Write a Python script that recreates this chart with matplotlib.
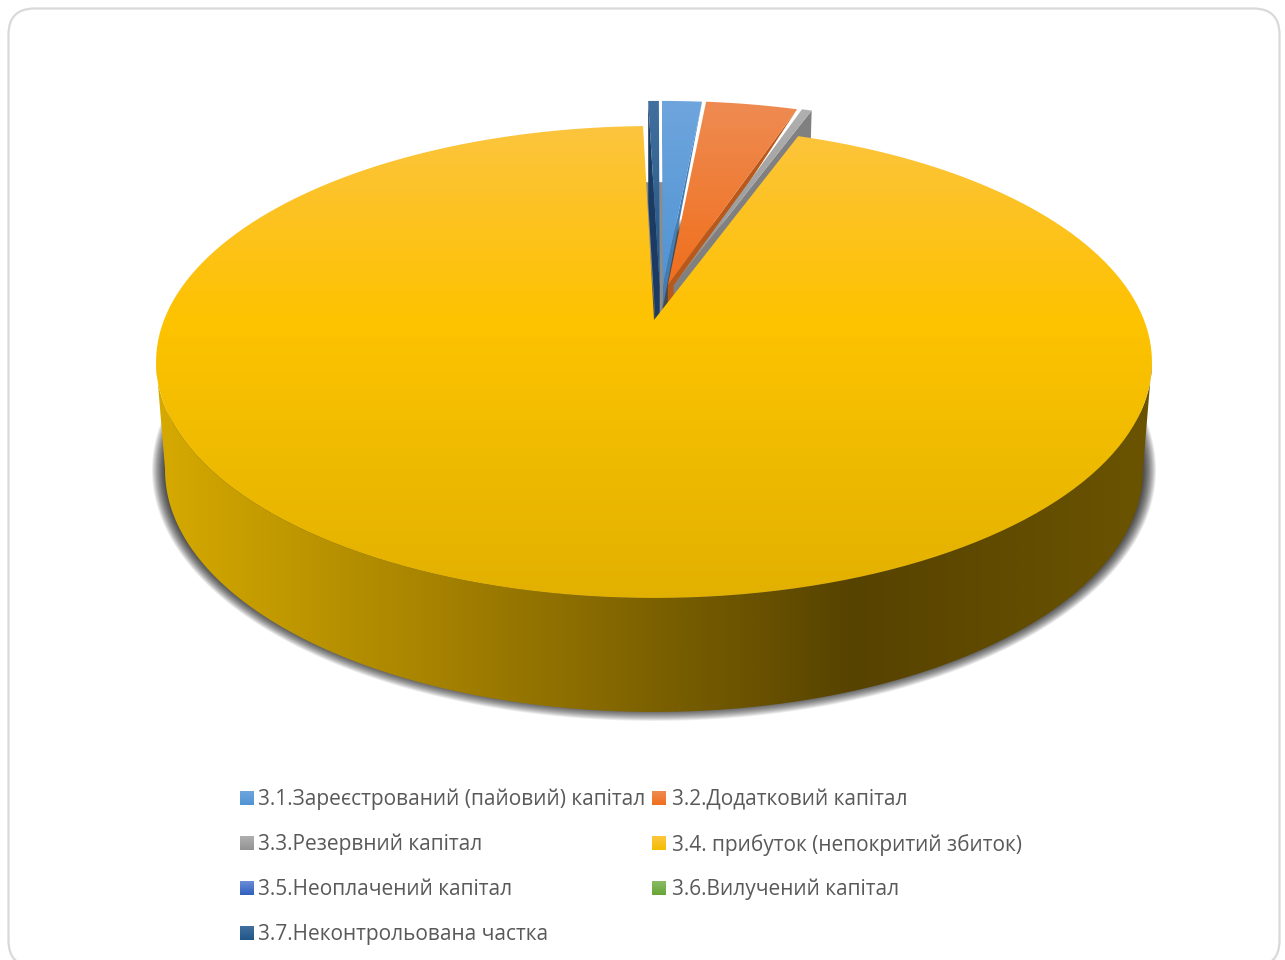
import numpy as np
import matplotlib
matplotlib.use('Agg')
import matplotlib.pyplot as plt
from matplotlib.colors import LinearSegmentedColormap
from matplotlib.patches import FancyBboxPatch, Polygon

labels = ['3.1.Зареєстрований (пайовий) капітал', '3.2.Додатковий капітал',
          '3.3.Резервний капітал', '3.4. прибуток (непокритий збиток)',
          '3.5.Неоплачений капітал', '3.6.Вилучений капітал',
          '3.7.Неконтрольована частка']
shares = [1.58, 3.61, 0.39, 94.0, 0.0, 0.0, 0.42]
pull_u = [0.019, 0.029, 0.041, 0.0, 0.0, 0.0, 0.012]
pull_v = [-0.156, -0.156, -0.156, 0.0, 0.0, 0.0, -0.156]
swatch_top = ['#6FA5DD', '#EE8B52', '#B0B0B0', '#FDC63F', '#6C8CD8', '#8ABB66', '#42709F']
swatch_bottom = ['#4F94D4', '#F06F1C', '#929292', '#F3BD00', '#2F5FBD', '#66A535', '#1F5688']
wall_colors = ['#447DB4', '#B8591B', '#808080', None, None, None, '#1C3B63']

# view of the disc
cx, cy, rx, ry, persp = 654.0, 320.0, 490.0, 228.5, -0.178
depth, narrow_x, stretch_y = 107.0, 0.018, 0.025
first_angle = 0.0

fig = plt.figure(figsize=(12.85, 9.6), dpi=100)
ax = fig.add_axes([0, 0, 1, 1])
ax.set_xlim(0, 1285)
ax.set_ylim(960, 0)
ax.axis('off')


def project(u, v, z=0.0):
    w = 1 + persp * v
    return (cx + (1 - narrow_x * z) * rx * u / w,
            cy + (1 + stretch_y * z) * ry * v / w + depth * z)


def arc(a, b, off=(0.0, 0.0), z=0.0, n=200):
    t = np.radians(np.linspace(a, b, n))
    return project(np.sin(t) + off[0], -np.cos(t) + off[1], z)


def wedge_pts(a, b, off=(0.0, 0.0), z=0.0):
    x, y = arc(a, b, off, z)
    x0, y0 = project(off[0], off[1], z)
    return np.column_stack([np.r_[x0, x], np.r_[y0, y]])


def gradient(poly, stops, vertical=True, zorder=2):
    # colour ramp over the pixel box, clipped to the polygon
    cmap = LinearSegmentedColormap.from_list('g', stops)
    ramp = np.linspace(0, 1, 512)
    ramp = ramp[:, None] if vertical else ramp[None, :]
    lo, hi = poly.min(axis=0), poly.max(axis=0)
    im = ax.imshow(ramp, cmap=cmap, aspect='auto', zorder=zorder, vmin=0, vmax=1,
                   extent=(lo[0], hi[0], hi[1], lo[1]), interpolation='bilinear')
    patch = Polygon(poly, closed=True, transform=ax.transData, fc='none', ec='none')
    ax.add_patch(patch)
    im.set_clip_path(patch)
    ax.set_xlim(0, 1285)
    ax.set_ylim(960, 0)


card = FancyBboxPatch((8.5, 8.5), 1271, 958, boxstyle='round,pad=0,rounding_size=26',
                      fc='white', ec='#D9D9D9', lw=1.6, zorder=0)
ax.add_patch(card)

# slice angles, clockwise from the top
sweep = np.array(shares) * 3.6
starts = first_angle + np.r_[0, np.cumsum(sweep)[:-1]]
ends = starts + sweep


def offset(i):
    return pull_u[i], pull_v[i]


# soft shadow under the disc
for grow in np.linspace(13, 0, 16):
    bx, by = arc(0, 360, z=1.0, n=400)
    mx = cx + (bx - cx) * (1 + grow / 489)
    my = 470 + (by - 470) * (1 + (grow - 4) / 242)
    ax.add_patch(Polygon(np.column_stack([mx, my]), fc='black', ec='none', alpha=0.07, zorder=1))

# rim of the main slice
tx, ty = arc(100, 260, z=0.0)
bx, by = arc(260, 100, z=1.0)
side = np.column_stack([np.r_[tx, bx], np.r_[ty, by]])
gradient(side, [(0, '#D6AA00'), (0.27, '#A88400'), (0.5, '#7C6100'), (0.7, '#574300'),
                (0.85, '#614B00'), (1, '#6B5400')], vertical=False, zorder=2)

# shadow seen in the gap behind the narrow slice
ax.add_patch(Polygon(wedge_pts(starts[6] - 0.6, ends[6] + 1.4, offset(6), z=0.8),
                     fc='#8C8C8C', ec='none', zorder=3))

# pulled-out slices, back to front
z_base = 4
for i in [6, 0, 1, 2]:
    off = offset(i)
    edge = starts[i] if i == 6 else ends[i]
    t = np.radians(edge)
    rim_u, rim_v = np.sin(t) + off[0], -np.cos(t) + off[1]
    if i in (2, 6):
        wall = [project(off[0], off[1]), project(rim_u, rim_v),
                project(rim_u, rim_v, 1.0), project(off[0], off[1], 1.0)]
    else:
        ax_, ay_ = project(off[0], off[1])
        wall = [project(off[0], off[1]), project(rim_u, rim_v), (ax_, ay_ + 21)]
    ax.add_patch(Polygon(np.array(wall), fc=wall_colors[i], ec='none', zorder=z_base))
    gradient(wedge_pts(starts[i], ends[i], off), [swatch_top[i], swatch_bottom[i]], zorder=z_base + 1)
    z_base += 2

# main slice on top
top = wedge_pts(starts[3], ends[3])
gradient(top, [(0, '#FCC53E'), (0.2, '#FDC21F'), (0.41, '#FEC300'), (0.7, '#EFBB00'), (1, '#E2B000')],
         zorder=20)

# legend
columns = [(240, 258), (652, 672)]
rows = [798, 843, 888, 933]
for i, label in enumerate(labels):
    sx, tx_ = columns[i % 2]
    yy = rows[i // 2]
    square = np.array([(sx, yy - 7), (sx + 14, yy - 7), (sx + 14, yy + 7), (sx, yy + 7)])
    gradient(square, [swatch_top[i], swatch_bottom[i]], zorder=21)
    ax.text(tx_, yy + 1.6, label, fontsize=15.0, family='Open Sans', color='#595959',
            va='center', ha='left', zorder=22)

fig.savefig('out.png', dpi=100)
